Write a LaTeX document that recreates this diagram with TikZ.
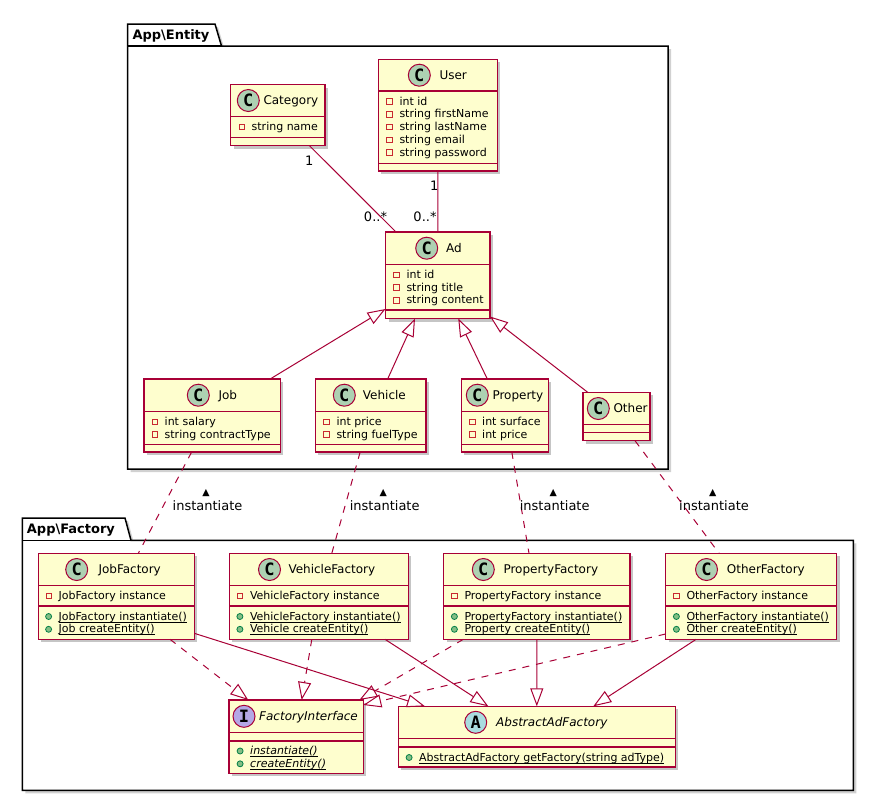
\documentclass[tikz,border=0pt]{standalone}
\usepackage{fontspec}
\setmainfont{DejaVu Sans}
\newfontfamily\iconfont{DejaVu Sans Mono}
\usetikzlibrary{arrows.meta,shadows}

\definecolor{umlred}{HTML}{A80036}
\definecolor{umlfill}{HTML}{FEFECE}
\definecolor{iconC}{HTML}{ADD1B2}
\definecolor{iconI}{HTML}{B4A7E5}
\definecolor{iconA}{HTML}{A9DCDF}
\definecolor{privred}{HTML}{C82930}
\definecolor{pubfill}{HTML}{84BE84}
\definecolor{publine}{HTML}{038048}

\newsavebox\ulbox
\newcommand\stul[1]{\sbox\ulbox{#1}\rlap{\rule[-2.2pt]{\wd\ulbox}{0.7pt}}\usebox\ulbox}

\tikzset{
  pkg/.style={draw=black, fill=white, line width=1.5pt},
  pkgshadow/.style={fill=black!18, xshift=3pt, yshift=-3pt},
  pkgname/.style={anchor=base west, inner sep=0pt, font=\bfseries\fontsize{13}{15}\selectfont},
  classbox/.style={draw=umlred, fill=umlfill, line width=1.5pt, inner sep=0pt, outer sep=0pt,
    anchor=north west, drop shadow={shadow xshift=3pt, shadow yshift=-3pt, fill=black!45, opacity=0.5}},
  classline/.style={draw=umlred, line width=1.5pt},
  icon/.style={circle, draw=umlred, line width=1pt, minimum size=22pt, inner sep=0pt,
    font=\iconfont\bfseries\fontsize{17}{17}\selectfont},
  iconc/.style={icon, fill=iconC},
  iconi/.style={icon, fill=iconI},
  icona/.style={icon, fill=iconA},
  classname/.style={anchor=base west, inner sep=0pt, font=\fontsize{12}{14}\selectfont},
  member/.style={anchor=base west, inner sep=0pt, text height=9pt, text depth=2pt,
    font=\fontsize{11}{13}\selectfont},
  privsq/.style={rectangle, draw=privred, line width=1pt, minimum size=5.5pt, inner sep=0pt},
  pubdot/.style={circle, draw=publine, fill=pubfill, line width=0.8pt, minimum size=6pt, inner sep=0pt},
  priv/.style={member, label={[privsq, label distance=6.5pt]left:{}}},
  pub/.style={member, label={[pubdot, label distance=6.5pt]left:{}}},
  link/.style={draw=umlred, line width=1pt},
  dep/.style={link, dash pattern=on 7pt off 7pt},
  ext/.style={-{Triangle[open, length=18pt, width=13pt]}},
  mult/.style={inner sep=0pt, font=\fontsize{13}{15}\selectfont},
  assoc/.style={anchor=base, inner sep=0pt, font=\fontsize{13}{15}\selectfont},
  dirmark/.style={inner sep=0pt, font=\fontsize{9.5}{10}\selectfont},
}

\begin{document}
\begin{tikzpicture}[x=1pt,y=-1pt]
\useasboundingbox (0,0) rectangle (874,801);

% packages
\fill[pkgshadow] (127.5,24) -- (215,24) -- (221.5,46) -- (668,46) -- (668,469) -- (127.5,469) -- cycle;
\draw[pkg] (127.5,24) -- (215,24) -- (221.5,46) -- (668,46) -- (668,469) -- (127.5,469) -- cycle;
\draw[pkg] (127.5,46) -- (221.5,46);
\node[pkgname] (entitypkg) at (132.3,39.3) {App\textbackslash Entity};

\fill[pkgshadow] (22.3,518) -- (125,518) -- (131,540.3) -- (853.3,540.3) -- (853.3,790.3) -- (22.3,790.3) -- cycle;
\draw[pkg] (22.3,518) -- (125,518) -- (131,540.3) -- (853.3,540.3) -- (853.3,790.3) -- (22.3,790.3) -- cycle;
\draw[pkg] (22.3,540.3) -- (131,540.3);
\node[pkgname] (factorypkg) at (26.7,533.3) {App\textbackslash Factory};

% Category
\node[classbox, minimum width=94.5pt, minimum height=61pt] (category) at (230.5,84.5) {};
\draw[classline] (230.5,116.5) -- (325,116.5);
\draw[classline] (230.5,137.5) -- (325,137.5);
\node[iconc] (category-c) at (248.3,100.5) {C};
\node[classname] (category-n) at (263.3,104.9) {Category};
\node[priv] (category-1) at (251.5,130.5) {string name};

% User
\node[classbox, minimum width=119pt, minimum height=111.7pt] (user) at (378.3,59.3) {};
\draw[classline] (378.3,91) -- (497.3,91);
\draw[classline] (378.3,163.3) -- (497.3,163.3);
\node[iconc] (user-c) at (419.3,75.2) {C};
\node[classname] (user-n) at (439.3,79.6) {User};
\node[priv] (user-1) at (399.3,105) {int id};
\node[priv] (user-2) at (399.3,117.8) {string firstName};
\node[priv] (user-3) at (399.3,130.6) {string lastName};
\node[priv] (user-4) at (399.3,143.4) {string email};
\node[priv] (user-5) at (399.3,156.2) {string password};

% Ad
\node[classbox, minimum width=104.5pt, minimum height=86.5pt] (ad) at (385.5,232) {};
\draw[classline] (385.5,264.3) -- (490,264.3);
\draw[classline] (385.5,310) -- (490,310);
\node[iconc] (ad-c) at (426.7,248.2) {C};
\node[classname] (ad-n) at (446,252.6) {Ad};
\node[priv] (ad-1) at (406.3,278.3) {int id};
\node[priv] (ad-2) at (406.3,291.1) {string title};
\node[priv] (ad-3) at (406.3,303.9) {string content};

% Job
\node[classbox, minimum width=136.3pt, minimum height=73pt] (job) at (144,379) {};
\draw[classline] (144,411.3) -- (280.3,411.3);
\draw[classline] (144,444.3) -- (280.3,444.3);
\node[iconc] (job-c) at (198.3,395.2) {C};
\node[classname] (job-n) at (218.3,399.6) {Job};
\node[priv] (job-1) at (164.5,425.3) {int salary};
\node[priv] (job-2) at (164.5,438.1) {string contractType};

% Vehicle
\node[classbox, minimum width=110.7pt, minimum height=73pt] (vehicle) at (315.3,379) {};
\draw[classline] (315.3,411.3) -- (426,411.3);
\draw[classline] (315.3,444.3) -- (426,444.3);
\node[iconc] (vehicle-c) at (344.3,395.2) {C};
\node[classname] (vehicle-n) at (362.7,399.6) {Vehicle};
\node[priv] (vehicle-1) at (336.3,425.3) {int price};
\node[priv] (vehicle-2) at (336.3,438.1) {string fuelType};

% Property
\node[classbox, minimum width=87pt, minimum height=73pt] (property) at (461.3,379) {};
\draw[classline] (461.3,411.3) -- (548.3,411.3);
\draw[classline] (461.3,444.3) -- (548.3,444.3);
\node[iconc] (property-c) at (477.3,395.2) {C};
\node[classname] (property-n) at (492.3,399.6) {Property};
\node[priv] (property-1) at (482,425.3) {int surface};
\node[priv] (property-2) at (482,438.1) {int price};

% Other
\node[classbox, minimum width=67pt, minimum height=48.4pt] (other) at (583,392.3) {};
\draw[classline] (583,424.7) -- (650,424.7);
\draw[classline] (583,432.3) -- (650,432.3);
\node[iconc] (other-c) at (598.3,408.5) {C};
\node[classname] (other-n) at (613.3,412.9) {Other};

% JobFactory
\node[classbox, minimum width=156pt, minimum height=86pt] (jobf) at (38.3,553.3) {};
\draw[classline] (38.3,585.7) -- (194.3,585.7);
\draw[classline] (38.3,606) -- (194.3,606);
\node[iconc] (jobf-c) at (76.7,569.5) {C};
\node[classname] (jobf-n) at (98.3,573.9) {JobFactory};
\node[priv] (jobf-1) at (58.5,599.5) {JobFactory instance};
\node[pub] (jobf-2) at (58.5,620) {\stul{JobFactory instantiate()}};
\node[pub] (jobf-3) at (58.5,632.8) {\stul{Job createEntity()}};

% VehicleFactory
\node[classbox, minimum width=179pt, minimum height=86pt] (vehf) at (229.3,553.3) {};
\draw[classline] (229.3,585.7) -- (408.3,585.7);
\draw[classline] (229.3,606) -- (408.3,606);
\node[iconc] (vehf-c) at (269.5,569.5) {C};
\node[classname] (vehf-n) at (288.3,573.9) {VehicleFactory};
\node[priv] (vehf-1) at (249.8,599.5) {VehicleFactory instance};
\node[pub] (vehf-2) at (249.8,620) {\stul{VehicleFactory instantiate()}};
\node[pub] (vehf-3) at (249.8,632.8) {\stul{Vehicle createEntity()}};

% PropertyFactory
\node[classbox, minimum width=186.5pt, minimum height=86pt] (propf) at (443.5,553.3) {};
\draw[classline] (443.5,585.7) -- (630,585.7);
\draw[classline] (443.5,606) -- (630,606);
\node[iconc] (propf-c) at (483.3,569.5) {C};
\node[classname] (propf-n) at (503.3,573.9) {PropertyFactory};
\node[priv] (propf-1) at (464.3,599.5) {PropertyFactory instance};
\node[pub] (propf-2) at (464.3,620) {\stul{PropertyFactory instantiate()}};
\node[pub] (propf-3) at (464.3,632.8) {\stul{Property createEntity()}};

% OtherFactory
\node[classbox, minimum width=171.2pt, minimum height=86pt] (othf) at (665.5,553.3) {};
\draw[classline] (665.5,585.7) -- (836.7,585.7);
\draw[classline] (665.5,606) -- (836.7,606);
\node[iconc] (othf-c) at (706.5,569.5) {C};
\node[classname] (othf-n) at (726.7,573.9) {OtherFactory};
\node[priv] (othf-1) at (686.3,599.5) {OtherFactory instance};
\node[pub] (othf-2) at (686.3,620) {\stul{OtherFactory instantiate()}};
\node[pub] (othf-3) at (686.3,632.8) {\stul{Other createEntity()}};

% FactoryInterface
\node[classbox, minimum width=134.3pt, minimum height=73.3pt] (fi) at (229,700) {};
\draw[classline] (229,732.7) -- (363.3,732.7);
\draw[classline] (229,741) -- (363.3,741);
\node[iconi] (fi-i) at (244,716.3) {I};
\node[classname, font=\itshape\fontsize{12}{14}\selectfont] (fi-n) at (259,720.7) {FactoryInterface};
\node[pub] (fi-1) at (250,754.5) {\stul{\textit{instantiate()}}};
\node[pub] (fi-2) at (250,767.3) {\stul{\textit{createEntity()}}};

% AbstractAdFactory
\node[classbox, minimum width=277pt, minimum height=60.7pt] (aaf) at (398.3,706.3) {};
\draw[classline] (398.3,738.3) -- (675.3,738.3);
\draw[classline] (398.3,747) -- (675.3,747);
\node[icona] (aaf-a) at (475.7,722.3) {A};
\node[classname, font=\itshape\fontsize{12}{14}\selectfont] (aaf-n) at (496,726.7) {AbstractAdFactory};
\node[pub] (aaf-1) at (419,761) {\stul{AbstractAdFactory getFactory(string adType)}};

% associations
\draw[link] ([xshift=31.5pt]category.south) -- ([xshift=-41.75pt]ad.north);
\draw[link] (user.south) -- (ad.north);
\node[mult] (m-cat) at (309.2,161.2) {1};
\node[mult] (m-cat-ad) at (375.5,217) {0..*};
\node[mult] (m-user) at (434.2,185.8) {1};
\node[mult] (m-user-ad) at (425,217) {0..*};

% inheritance of Ad
\draw[link, ext] ([xshift=58pt]job.north) -- ([yshift=9.5pt]ad.south west);
\draw[link, ext] ([xshift=17pt]vehicle.north) -- ([xshift=-22.75pt]ad.south);
\draw[link, ext] ([xshift=-17.5pt]property.north) -- ([xshift=20.5pt]ad.south);
\draw[link, ext] ([xshift=-28.8pt]other.north) -- ([yshift=2pt]ad.south east);

% instantiate
\draw[dep] ([xshift=-20.5pt]job.south) -- ([xshift=22pt]jobf.north);
\draw[dep] ([xshift=-10.5pt]vehicle.south) -- ([xshift=13pt]vehf.north);
\draw[dep] ([xshift=7pt]property.south) -- ([xshift=-7.75pt]propf.north);
\draw[dep] ([xshift=18.5pt]other.south) -- ([xshift=-32pt]othf.north);
\node[dirmark] (d-job) at (206,493.3) {▲};
\node[assoc] (l-job) at (207.5,510.5) {instantiate};
\node[dirmark] (d-veh) at (383.3,493.3) {▲};
\node[assoc] (l-veh) at (384.7,510.5) {instantiate};
\node[dirmark] (d-prop) at (553.3,493.3) {▲};
\node[assoc] (l-prop) at (554.7,510.5) {instantiate};
\node[dirmark] (d-oth) at (712.7,493.3) {▲};
\node[assoc] (l-oth) at (714,510.5) {instantiate};

% factories
\draw[dep, ext] ([xshift=53.7pt]jobf.south) -- ([xshift=-47.85pt]fi.north);
\draw[link, ext] ([yshift=6pt]jobf.south east) -- ([xshift=26.7pt]aaf.north west);
\draw[dep, ext] ([xshift=-7pt]vehf.south) -- ([xshift=5.5pt]fi.north);
\draw[link, ext] ([xshift=66.2pt]vehf.south) -- ([xshift=-48.5pt]aaf.north);
\draw[dep, ext] ([xshift=-73.45pt]propf.south) -- ([xshift=-4pt]fi.north east);
\draw[link, ext] (propf.south) -- (aaf.north);
\draw[dep, ext] ([yshift=5.3pt]othf.south west) -- ([yshift=-5pt]fi.north east);
\draw[link, ext] ([xshift=-55pt]othf.south) -- ([xshift=56.5pt]aaf.north);
\end{tikzpicture}
\end{document}
